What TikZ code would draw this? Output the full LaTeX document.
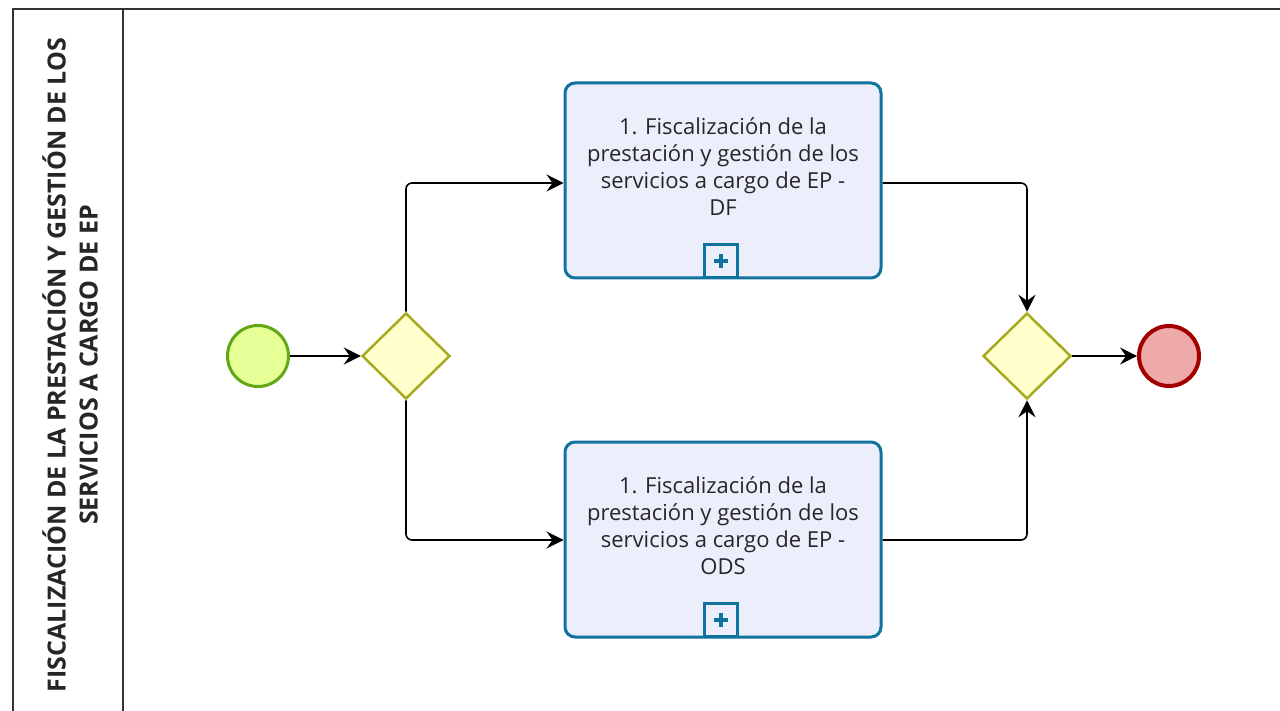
\documentclass[tikz,border=0pt]{standalone}
\usepackage{fontspec}
\setmainfont{Open Sans}
\usetikzlibrary{shapes.geometric,arrows.meta}
\definecolor{poolline}{HTML}{333333}
\definecolor{startfill}{HTML}{E6FF97}
\definecolor{startline}{HTML}{62A716}
\definecolor{gwfill}{HTML}{FFFFCC}
\definecolor{gwline}{HTML}{A9A91F}
\definecolor{taskfill}{HTML}{ECEEFC}
\definecolor{taskline}{HTML}{10739E}
\definecolor{endfill}{HTML}{EEA9A9}
\definecolor{endline}{HTML}{A20000}
\tikzset{
  startev/.style={circle,draw=startline,fill=startfill,line width=3pt,minimum size=61pt,inner sep=0pt},
  endev/.style={circle,draw=endline,fill=endfill,line width=4pt,minimum size=60pt,inner sep=0pt},
  gateway/.style={diamond,draw=gwline,fill=gwfill,line width=2.5pt,minimum width=88pt,minimum height=86pt,inner sep=0pt},
  taskbox/.style={rectangle,rounded corners=10pt,draw=taskline,fill=taskfill,line width=3pt,minimum width=316pt,minimum height=195pt,inner sep=0pt},
  tasktext/.style={align=center,font=\fontsize{22}{27}\selectfont,text=black!85},
  marker/.style={rectangle,draw=taskline,fill=taskfill,line width=3pt,minimum size=33pt,inner sep=0pt},
  flow/.style={draw=black,line width=1.6pt,rounded corners=6pt,-{Stealth[length=17pt,width=17pt,inset=6pt]}},
  pool/.style={draw=poolline,line width=2pt}
}
\begin{document}
\begin{tikzpicture}[x=1pt,y=-1pt]
\useasboundingbox (0,0) rectangle (1280,711);
\fill[white] (0,0) rectangle (1280,711);
% pool
\draw[pool] (13,714) -- (13,9) -- (1283,9);
\draw[pool] (123,9) -- (123,714);
\node[rotate=90,align=center,font=\bfseries\fontsize{25}{32}\selectfont,text=black!85] (poollabel) at (70,365)
  {FISCALIZACIÓN DE LA PRESTACIÓN Y GESTIÓN DE LOS\\SERVICIOS A CARGO DE EP};
% nodes
\node[startev] (start) at (258,356) {};
\node[gateway] (gw1) at (406,356) {};
\node[taskbox] (t1) at (723,180.5) {};
\node[tasktext] (t1txt) at (723,167) {1. Fiscalización de la\\prestación y gestión de los\\servicios a cargo de EP -\\DF};
\node[marker] (m1) at (721,261) {};
\draw[taskline,line width=3.5pt] (m1.center) ++(-7,0) -- ++(14,0) (m1.center) ++(0,-7) -- ++(0,14);
\node[taskbox] (t2) at (723,539.5) {};
\node[tasktext] (t2txt) at (723,526) {1. Fiscalización de la\\prestación y gestión de los\\servicios a cargo de EP -\\ODS};
\node[marker] (m2) at (721,620) {};
\draw[taskline,line width=3.5pt] (m2.center) ++(-7,0) -- ++(14,0) (m2.center) ++(0,-7) -- ++(0,14);
\node[gateway] (gw2) at (1027,356) {};
\node[endev] (end) at (1169,356) {};
% flows
\draw[flow] (start) -- (gw1);
\draw[flow] (gw1.north) |- (t1.west |- 0,183);
\draw[flow] (gw1.south) |- (t2.west |- 0,540);
\draw[flow] (t1.east |- 0,183) -| (gw2.north);
\draw[flow] (t2.east |- 0,540) -| (gw2.south);
\draw[flow] (gw2) -- (end);
\end{tikzpicture}
\end{document}
